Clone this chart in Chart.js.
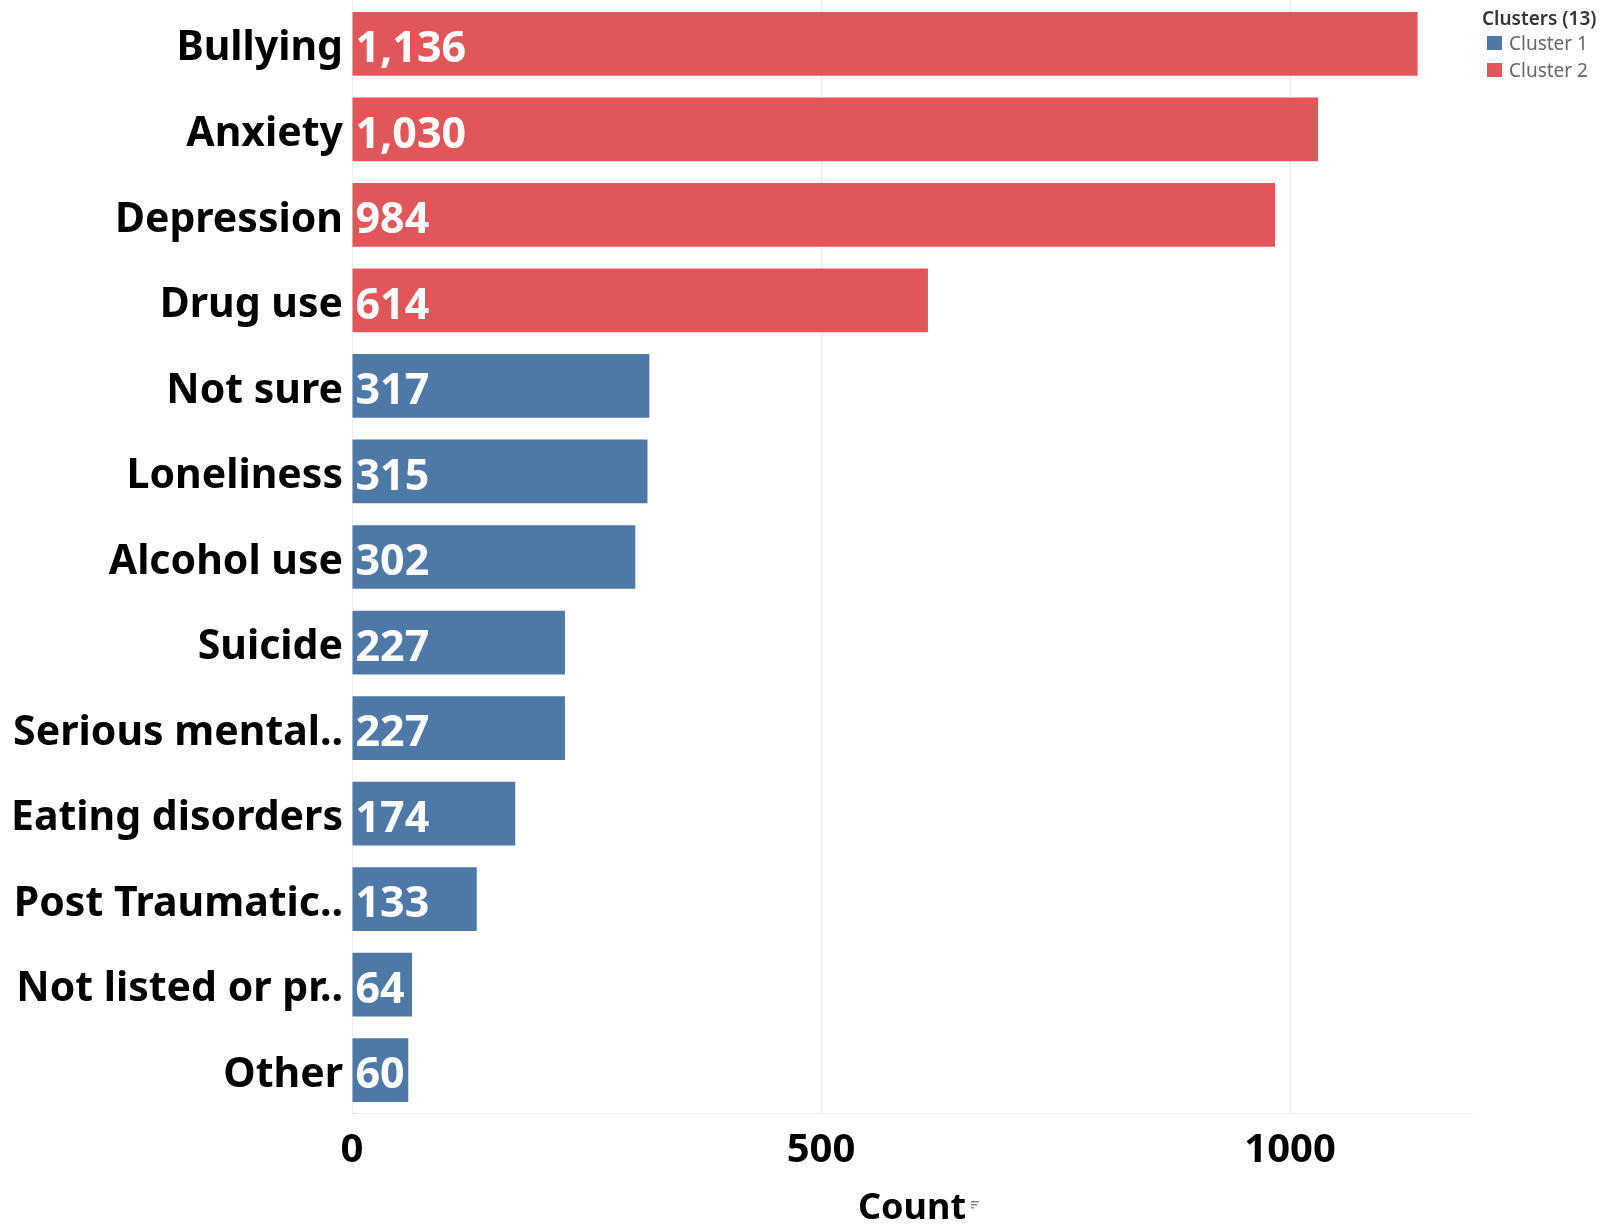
<!DOCTYPE html>
<html>
<head>
<meta charset="utf-8">
<script src="https://cdn.jsdelivr.net/npm/chart.js@4.4.1/dist/chart.umd.min.js"></script>
<style>
  html, body { margin: 0; padding: 0; background: #fff; }
  #wrap { width: 1603px; height: 1226px; }
</style>
</head>
<body>
<div id="wrap"><canvas id="chart"></canvas></div>
<script>
const categories = ['Bullying', 'Anxiety', 'Depression', 'Drug use', 'Not sure', 'Loneliness',
    'Alcohol use', 'Suicide', 'Serious mental..', 'Eating disorders', 'Post Traumatic..',
    'Not listed or pr..', 'Other'];
const counts = [1136, 1030, 984, 614, 317, 315, 302, 227, 227, 174, 133, 64, 60];
const clusterOf = [2, 2, 2, 2, 1, 1, 1, 1, 1, 1, 1, 1, 1];
const clusterNames = ['Cluster 1', 'Cluster 2'];
const clusterColors = ['#4e79a7', '#e15759'];
const xTicks = [0, 500, 1000];
const xMax = 1194;

const FONT = '"Noto Sans", "Open Sans", sans-serif';

// one dataset per cluster, null where the row belongs to the other one
const datasets = clusterNames.map((name, i) => ({
    label: name,
    data: counts.map((v, j) => (clusterOf[j] === i + 1 ? v : null)),
    backgroundColor: clusterColors[i],
    borderWidth: 0,
    barPercentage: 0.745,
    categoryPercentage: 1,
    grouped: false
}));

const barLabels = {
    id: 'barLabels',
    afterDatasetsDraw(chart) {
        const ctx = chart.ctx;
        ctx.save();
        ctx.fillStyle = '#ffffff';
        ctx.font = 'bold 43px ' + FONT;
        ctx.textAlign = 'left';
        ctx.textBaseline = 'middle';
        chart.data.datasets.forEach((ds, i) => {
            chart.getDatasetMeta(i).data.forEach((bar, j) => {
                if (ds.data[j] == null) return;
                ctx.fillText(ds.data[j].toLocaleString('en-US'), bar.base + 3, bar.y + 6);
            });
        });
        ctx.restore();
    }
};

const clusterLegend = {
    id: 'clusterLegend',
    afterDraw(chart) {
        const ctx = chart.ctx;
        ctx.save();
        ctx.textAlign = 'left';
        ctx.textBaseline = 'alphabetic';
        ctx.fillStyle = '#333333';
        ctx.font = '600 19px ' + FONT;
        ctx.fillText('Clusters (13)', 1482, 25);
        ctx.font = '19px ' + FONT;
        chart.data.datasets.forEach((ds, i) => {
            const y = 36 + i * 27;
            ctx.fillStyle = ds.backgroundColor;
            ctx.fillRect(1487, y, 15, 14);
            ctx.fillStyle = '#666666';
            ctx.fillText(ds.label, 1509, y + 14);
        });
        // little sort marker next to the axis title
        const xs = chart.scales.x;
        const cx = (xs.left + xs.right) / 2 + 59;
        ctx.fillStyle = '#888888';
        [8, 6, 3].forEach((w, k) => ctx.fillRect(cx, 1201 + k * 3, w, 1.5));
        ctx.restore();
    }
};

new Chart(document.getElementById('chart'), {
    type: 'bar',
    data: { labels: categories, datasets: datasets },
    options: {
        indexAxis: 'y',
        responsive: true,
        maintainAspectRatio: false,
        animation: false,
        layout: { padding: { top: 1, right: 131, bottom: 0, left: 0 } },
        plugins: {
            legend: { display: false },
            tooltip: { enabled: false }
        },
        scales: {
            x: {
                min: 0,
                max: xMax,
                afterBuildTicks(scale) {
                    scale.ticks = xTicks.map(v => ({ value: v }));
                },
                afterFit(scale) {
                    scale.height = 113;
                    scale.paddingLeft = 0;
                    scale.paddingRight = 0;
                },
                grid: { color: '#ededed', lineWidth: 1, drawTicks: false },
                border: { color: '#ededed' },
                ticks: {
                    color: '#000',
                    padding: 14,
                    maxRotation: 0,
                    callback: v => String(v),
                    font: { family: FONT, size: 40, weight: 'bold' }
                },
                title: {
                    display: true,
                    text: 'Count',
                    color: '#000',
                    padding: { top: 0, bottom: -1 },
                    font: { family: FONT, size: 36, weight: 'bold', lineHeight: 1 }
                }
            },
            y: {
                afterFit(scale) {
                    scale.width = 352;
                    scale.paddingTop = 0;
                    scale.paddingBottom = 0;
                },
                grid: { display: false, drawTicks: false },
                border: { display: false },
                ticks: {
                    color: '#000',
                    padding: 9,
                    labelOffset: 5,
                    autoSkip: false,
                    font: { family: FONT, size: 41, weight: 'bold' }
                }
            }
        }
    },
    plugins: [barLabels, clusterLegend]
});
</script>
</body>
</html>
